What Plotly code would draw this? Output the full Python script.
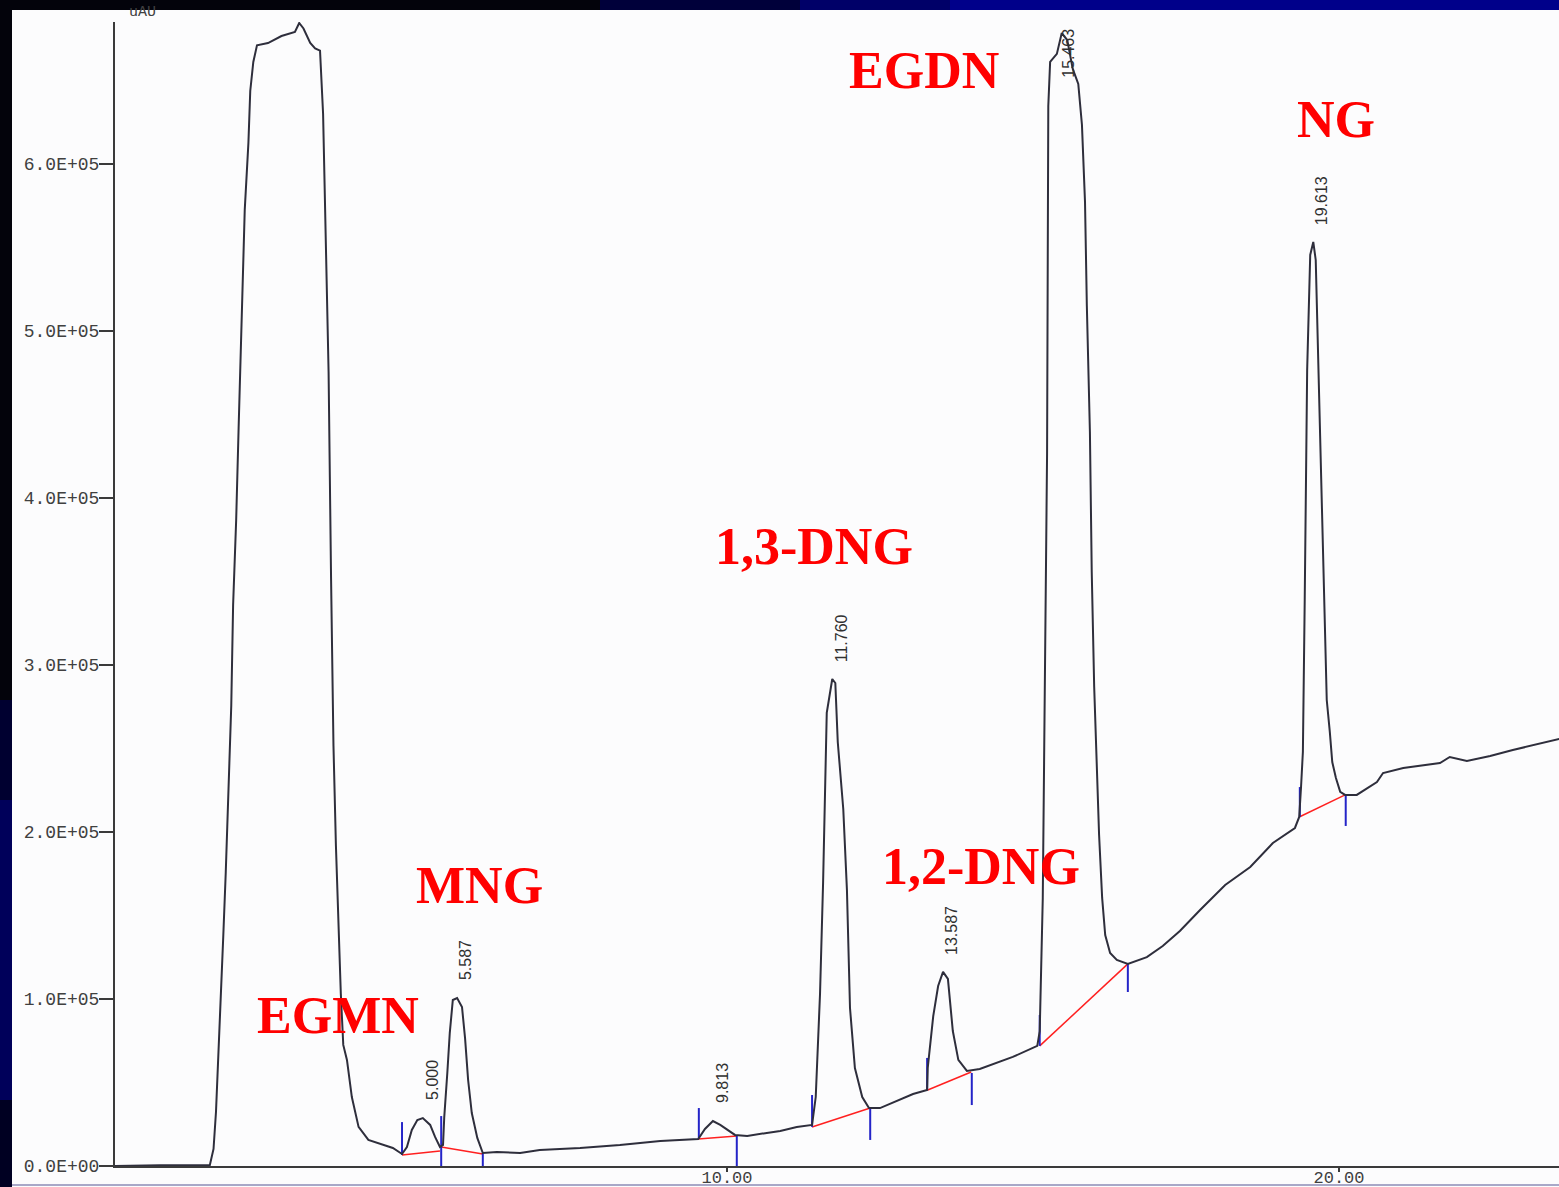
import plotly.graph_objects as go

# ---------------- data ----------------
time_min = [0.00, 0.74, 1.55,
            1.61, 1.65, 1.69, 1.73, 1.77, 1.81, 1.85, 1.90, 1.93, 1.98, 2.02, 2.07, 2.12, 2.18, 2.21, 2.26, 2.32,
            2.50, 2.72, 2.94, 3.01, 3.08, 3.19, 3.27, 3.35,
            3.40, 3.44, 3.49, 3.53, 3.57, 3.61, 3.65, 3.69, 3.73, 3.79, 3.87, 3.98, 4.14, 4.25,
            4.54, 4.69, 4.77, 4.85, 4.94, 5.03, 5.15, 5.23, 5.31,
            5.36, 5.38, 5.43, 5.47, 5.52, 5.59, 5.67, 5.72, 5.77, 5.83, 5.92, 6.01,
            6.24, 6.62, 6.94, 7.60, 8.25, 8.91, 9.53,
            9.64, 9.77, 9.89, 10.13, 10.33, 10.65, 10.87, 11.14, 11.39,
            11.45, 11.52, 11.57, 11.63, 11.72, 11.77, 11.81, 11.90, 11.96, 12.01, 12.09, 12.21, 12.32, 12.50, 13.04, 13.27,
            13.28, 13.37, 13.45, 13.53, 13.61, 13.69, 13.78, 13.92, 14.13, 14.67, 15.07,
            15.11, 15.16, 15.23, 15.25, 15.28, 15.39, 15.47, 15.56, 15.65, 15.74, 15.80, 15.85, 15.88, 15.93, 15.96,
            16.00, 16.05, 16.08, 16.13, 16.18, 16.26, 16.37, 16.55, 16.86, 17.12, 17.40, 17.73, 18.14, 18.55, 18.92,
            19.28, 19.35,
            19.38, 19.41, 19.44, 19.48, 19.53, 19.58, 19.62, 19.67, 19.72, 19.77, 19.80, 19.85, 19.89, 19.95, 20.02,
            20.10, 20.29, 20.62, 20.72, 21.05, 21.65, 21.81, 22.09, 22.47, 22.84, 23.60]

# detector signal, thousands of uAU
signal_k = [0, 0.5, 0.6,
            10.2, 32.3, 65.3, 98.8, 138.3, 176.0, 218.6, 276.0, 335.9, 386.8, 441.9, 508.4, 572.5, 612.6, 643.7, 661.1, 671.0,
            672.4, 676.6, 679.0, 684.4, 681.1, 672.4, 669.2, 667.9,
            630.2, 568.3, 475.4, 353.3, 251.5, 191.6, 143.1, 103.0, 72.5, 63.5, 41.3, 23.4, 15.6, 14.4,
            10.8, 7.2, 11.4, 21.6, 27.5, 28.7, 24.6, 17.4, 11.4,
            12.6, 29.3, 55.7, 79.6, 99.4, 100.6, 95.2, 76.6, 51.5, 31.7, 16.8, 7.8,
            8.4, 7.8, 9.6, 10.8, 12.6, 15.0, 16.2,
            22.2, 26.9, 24.6, 18.6, 18.0, 19.8, 21.0, 23.4, 24.6,
            41.3, 103.0, 169.5, 271.3, 291.6, 289.2, 253.9, 213.8, 165.3, 94.6, 58.7, 41.3, 34.7, 34.7, 43.1, 45.5,
            58.7, 89.8, 107.8, 116.2, 112.0, 80.8, 63.5, 56.9, 58.1, 65.3, 71.9,
            80.8, 160.5, 426.3, 634.7, 661.1, 665.9, 678.4, 674.2, 656.9, 647.9, 623.4, 577.2, 515.0, 439.5, 355.7,
            286.8, 235.9, 198.2, 160.5, 138.3, 127.5, 123.4, 121.0, 125.1, 131.7, 140.7, 153.3, 168.3, 179.0, 193.4,
            202.4, 209.0,
            226.9, 247.9, 338.9, 476.6, 545.5, 553.3, 542.5, 470.7, 386.8, 315.0, 279.0, 259.9, 241.9, 232.3, 224.0,
            222.2, 222.2, 229.9, 235.3, 238.3, 241.3, 244.9, 242.5, 245.5, 249.1, 255.7]

# integration baselines (start time, start value, end time, end value)
base_t0 = [4.69, 5.33, 9.53, 11.39, 13.28, 15.11, 19.35]
base_v0 = [6.6, 11.4, 16.2, 23.4, 45.5, 71.9, 209.0]
base_t1 = [5.31, 6.01, 10.16, 12.34, 13.99, 16.55, 20.10]
base_v1 = [9.0, 7.2, 18.0, 34.7, 56.3, 121.0, 222.2]

# peak start / end markers (time, lower value, upper value)
mark_t = [4.69, 5.33, 6.01, 9.54, 10.16, 11.39, 12.34, 13.27, 14.00, 15.11, 16.55, 19.36, 20.11]
mark_lo = [6.6, 0.0, 0.0, 16.2, 0.0, 23.4, 15.6, 45.5, 36.5, 71.9, 104.2, 209.0, 203.6]
mark_hi = [26.3, 29.9, 7.8, 34.7, 18.0, 42.5, 34.7, 64.7, 55.7, 90.4, 121.0, 226.9, 222.2]

# retention-time labels at peak apexes
peak_rt = ["5.000", "5.587", "9.813", "11.760", "13.587", "15.463", "19.613"]
peak_t = [5.03, 5.59, 9.77, 11.72, 13.53, 15.47, 19.58]
peak_h = [28.7, 100.6, 26.9, 291.6, 116.2, 678.4, 553.3]

# compound names
compounds = ["EGMN", "MNG", "1,3-DNG", "1,2-DNG", "EGDN", "NG"]

# axis ticks
y_tickvals = [0, 100, 200, 300, 400, 500, 600]
y_ticktext = ["0.0E+00", "1.0E+05", "2.0E+05", "3.0E+05", "4.0E+05", "5.0E+05", "6.0E+05"]
x_tickvals = [10, 20]
x_ticktext = ["10.00", "20.00"]

# ---------------- figure ----------------
fig = go.Figure()

bx, by = [], []
for a, b, c, d in zip(base_t0, base_v0, base_t1, base_v1):
    bx += [a, c, None]
    by += [b, d, None]
fig.add_trace(go.Scatter(x=bx, y=by, mode="lines", line=dict(color="#ff2020", width=1.5),
                         hoverinfo="skip", showlegend=False))

mx, my = [], []
for t, lo, hi in zip(mark_t, mark_lo, mark_hi):
    mx += [t, t, None]
    my += [lo, hi, None]
fig.add_trace(go.Scatter(x=mx, y=my, mode="lines", line=dict(color="#2424c8", width=2),
                         hoverinfo="skip", showlegend=False))

fig.add_trace(go.Scatter(x=time_min, y=signal_k, mode="lines",
                         line=dict(color="#2e2e3c", width=2), showlegend=False))

mono = "Liberation Mono, DejaVu Sans Mono, monospace"
annotations = []

# retention time labels (rotated)
rt_offsets = {"15.463": (6, -20)}
for lab, t, h in zip(peak_rt, peak_t, peak_h):
    dx, dy = rt_offsets.get(lab, (9, 38 if len(lab) == 5 else 41))
    annotations.append(dict(x=t, y=h, xref="x", yref="y", text=lab, showarrow=False,
                            textangle=-90, xanchor="center", yanchor="middle",
                            xshift=dx, yshift=dy,
                            font=dict(family="Liberation Sans, Arial, sans-serif", size=16, color="#303030")))

# compound labels
label_pos = [(3.64, 90.4), (5.96, 167.7), (11.42, 370.7), (14.15, 179.6), (13.22, 655.7), (19.95, 626.9)]
for name, (lx, ly) in zip(compounds, label_pos):
    annotations.append(dict(x=lx, y=ly, xref="x", yref="y", text=name, showarrow=False,
                            xanchor="center", yanchor="middle",
                            font=dict(family="Liberation Serif, Times New Roman, serif", size=52,
                                      color="#ff0000", weight="bold")))

annotations.append(dict(x=0.0187, y=1.0087, xref="paper", yref="paper", text="uAU", showarrow=False,
                        xanchor="center", yanchor="middle", font=dict(family=mono, size=15, color="#404040")))

# frame (slide background around the screenshot)
W, H, L, T, PW, PH = 1559, 1187, 115, 22, 1444, 1144
def px(x):
    return (x - L) / PW
def py(y):
    return (T + PH - y) / PH

shapes = []
top_cols = [(0, 600, "#03030b"), (600, 800, "#00003a"), (800, 950, "#000068"), (950, W, "#00008a")]
for x0, x1, c in top_cols:
    shapes.append(dict(type="rect", xref="paper", yref="paper", x0=px(x0), x1=px(x1), y0=py(10), y1=py(0),
                       fillcolor=c, line=dict(width=0), layer="above"))
left_cols = [(0, 700, "#03030b"), (700, 800, "#000030"), (800, 1100, "#00005a"), (1100, H, "#000022")]
for y0, y1, c in left_cols:
    shapes.append(dict(type="rect", xref="paper", yref="paper", x0=px(0), x1=px(12), y0=py(y1), y1=py(y0),
                       fillcolor=c, line=dict(width=0), layer="above"))
shapes.append(dict(type="line", xref="paper", yref="paper", x0=px(12), x1=px(W), y0=py(1185), y1=py(1185),
                   line=dict(color="#a8a8c8", width=2), layer="above"))

fig.update_layout(
    width=W, height=H,
    margin=dict(l=L, r=0, t=T, b=H - T - PH, pad=0, autoexpand=False),
    paper_bgcolor="#fcfcfd", plot_bgcolor="#fcfcfd",
    xaxis=dict(range=[0, 23.595], automargin=False, showgrid=False, zeroline=False, showline=True,
               linecolor="#3a3a3a", linewidth=2, ticks="outside", ticklen=4, tickwidth=1.5, tickcolor="#3a3a3a",
               tickvals=x_tickvals, ticktext=x_ticktext, ticklabelstandoff=-9,
               tickfont=dict(family=mono, size=17, color="#404040")),
    yaxis=dict(range=[0, 685.0], automargin=False, showgrid=False, zeroline=False, showline=True,
               linecolor="#3a3a3a", linewidth=2, ticks="outside", ticklen=14, tickwidth=1.5, tickcolor="#3a3a3a",
               tickvals=y_tickvals, ticktext=y_ticktext, ticklabelstandoff=-4,
               tickfont=dict(family=mono, size=18, color="#404040")),
    annotations=annotations, shapes=shapes,
)

fig.write_html("out.html", config={"displayModeBar": False},
               post_script="document.body.style.margin='0';document.body.style.overflow='hidden';")
